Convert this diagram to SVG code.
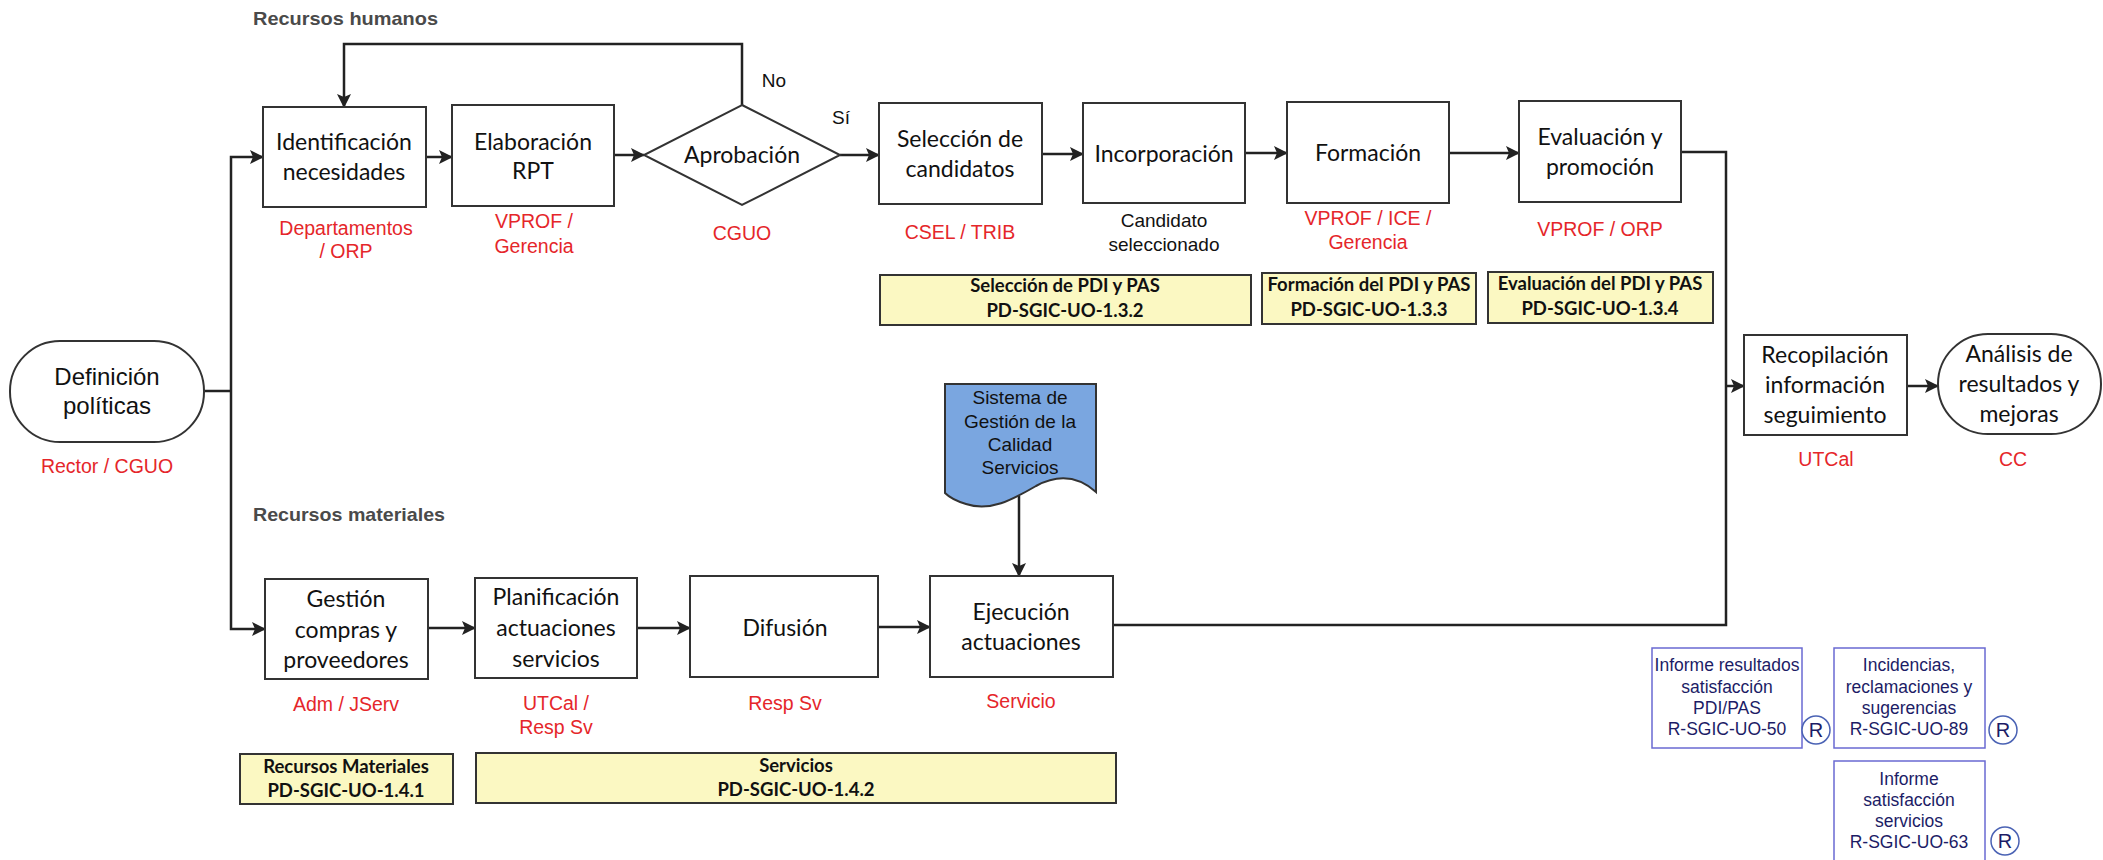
<svg xmlns="http://www.w3.org/2000/svg" width="2103" height="860" viewBox="0 0 2103 860">
<defs>
<marker id="arr" markerUnits="userSpaceOnUse" markerWidth="14" markerHeight="14" refX="13" refY="7" orient="auto">
<path d="M0,0 L14,7 L0,14 L3,7 z" fill="#222"/>
</marker>
<style>
.box{fill:#fff;stroke:#333;stroke-width:2}
.yel{fill:#fbf8c2;stroke:#333;stroke-width:2}
.rec{fill:#fff;stroke:#6a6ad2;stroke-width:1.5}
.rc{fill:#fff;stroke:#4a62b4;stroke-width:1.5}
.t{font-family:Lato,"Liberation Sans",sans-serif;font-size:23px;fill:#111;text-anchor:middle}
.ta{font-family:"Liberation Sans",Arial,sans-serif;font-size:24px;fill:#111;text-anchor:middle}
.red{font-family:"Liberation Sans",Arial,sans-serif;font-size:19.5px;fill:#e5262a;text-anchor:middle}
.blk{font-family:"Liberation Sans",Arial,sans-serif;font-size:19px;fill:#111;text-anchor:middle}
.yt{font-family:Lato,"Liberation Sans",sans-serif;font-size:18.5px;font-weight:bold;fill:#111;text-anchor:middle}
.bt{font-family:"Liberation Sans",Arial,sans-serif;font-size:17.5px;fill:#1c1c66;text-anchor:middle}
.rt{font-family:"Liberation Sans",Arial,sans-serif;font-size:20px;fill:#1c1c66;text-anchor:middle}
.sec{font-family:"Liberation Sans",Arial,sans-serif;font-size:19px;font-weight:bold;fill:#4a4a4a}
.c{fill:none;stroke:#222;stroke-width:2.5}
</style>
</defs>
<rect width="2103" height="860" fill="#fff"/>
<text class="sec" x="253" y="25" textLength="185" lengthAdjust="spacingAndGlyphs">Recursos humanos</text>
<text class="sec" x="253" y="521" textLength="192" lengthAdjust="spacingAndGlyphs">Recursos materiales</text>

<g id="connectors">
<polyline class="c" points="204,391 231,391"/>
<polyline class="c" points="231,391 231,157 263,157" marker-end="url(#arr)"/>
<polyline class="c" points="231,391 231,629 265,629" marker-end="url(#arr)"/>
<line class="c" x1="426" y1="157" x2="452" y2="157" marker-end="url(#arr)"/>
<line class="c" x1="614" y1="155" x2="644" y2="155" marker-end="url(#arr)"/>
<polyline class="c" points="742,105 742,44 344,44 344,107" marker-end="url(#arr)"/>
<line class="c" x1="840" y1="155" x2="879" y2="155" marker-end="url(#arr)"/>
<line class="c" x1="1042" y1="154" x2="1083" y2="154" marker-end="url(#arr)"/>
<line class="c" x1="1245" y1="153" x2="1287" y2="153" marker-end="url(#arr)"/>
<line class="c" x1="1449" y1="153" x2="1519" y2="153" marker-end="url(#arr)"/>
<polyline class="c" points="1681,152 1726,152 1726,625 1113,625"/>
<line class="c" x1="1726" y1="386" x2="1744" y2="386" marker-end="url(#arr)"/>
<line class="c" x1="1907" y1="386" x2="1938" y2="386" marker-end="url(#arr)"/>
<line class="c" x1="428" y1="628" x2="475" y2="628" marker-end="url(#arr)"/>
<line class="c" x1="637" y1="628" x2="690" y2="628" marker-end="url(#arr)"/>
<line class="c" x1="878" y1="627" x2="930" y2="627" marker-end="url(#arr)"/>
<line class="c" x1="1019" y1="496" x2="1019" y2="576" marker-end="url(#arr)"/>
<text class="blk" x="774" y="87">No</text>
<text class="blk" x="841" y="124">Sí</text>
</g>

<g id="definicion">
<rect class="box" x="10" y="341" width="194" height="101" rx="50" ry="50"/>
<text class="ta" x="107" y="385">Definición</text>
<text class="ta" x="107" y="414">políticas</text>
<text class="red" x="107" y="473">Rector / CGUO</text>
</g>

<g id="identificacion">
<rect class="box" x="263" y="107" width="163" height="100"/>
<text class="t" x="344" y="150">Identificación</text>
<text class="t" x="344" y="180">necesidades</text>
<text class="red" x="346" y="235">Departamentos</text>
<text class="red" x="346" y="258">/ ORP</text>
</g>

<g id="elaboracion">
<rect class="box" x="452" y="105" width="162" height="101"/>
<text class="t" x="533" y="150">Elaboración</text>
<text class="t" x="533" y="179">RPT</text>
<text class="red" x="534" y="228">VPROF /</text>
<text class="red" x="534" y="253">Gerencia</text>
</g>

<g id="aprobacion">
<polygon class="box" points="742,105 840,155 742,205 644,155"/>
<text class="t" x="742" y="163">Aprobación</text>
<text class="red" x="742" y="240">CGUO</text>
</g>

<g id="seleccion">
<rect class="box" x="879" y="103" width="163" height="101"/>
<text class="t" x="960" y="147">Selección de</text>
<text class="t" x="960" y="177">candidatos</text>
<text class="red" x="960" y="239">CSEL / TRIB</text>
</g>

<g id="incorporacion">
<rect class="box" x="1083" y="103" width="162" height="100"/>
<text class="t" x="1164" y="162">Incorporación</text>
<text class="blk" x="1164" y="227">Candidato</text>
<text class="blk" x="1164" y="251">seleccionado</text>
</g>

<g id="formacion">
<rect class="box" x="1287" y="102" width="162" height="101"/>
<text class="t" x="1368" y="161">Formación</text>
<text class="red" x="1368" y="225">VPROF / ICE /</text>
<text class="red" x="1368" y="249">Gerencia</text>
</g>

<g id="evaluacion">
<rect class="box" x="1519" y="101" width="162" height="101"/>
<text class="t" x="1600" y="145">Evaluación y</text>
<text class="t" x="1600" y="175">promoción</text>
<text class="red" x="1600" y="236">VPROF / ORP</text>
</g>

<g id="proc-seleccion">
<rect class="yel" x="880" y="275" width="371" height="50"/>
<text class="yt" x="1065" y="292">Selección de PDI y PAS</text>
<text class="yt" x="1065" y="317">PD-SGIC-UO-1.3.2</text>
</g>
<g id="proc-formacion">
<rect class="yel" x="1262" y="273" width="214" height="51"/>
<text class="yt" x="1369" y="291">Formación del PDI y PAS</text>
<text class="yt" x="1369" y="316">PD-SGIC-UO-1.3.3</text>
</g>
<g id="proc-evaluacion">
<rect class="yel" x="1488" y="272" width="225" height="51"/>
<text class="yt" x="1600" y="290">Evaluación del PDI y PAS</text>
<text class="yt" x="1600" y="315">PD-SGIC-UO-1.3.4</text>
</g>

<g id="recopilacion">
<rect class="box" x="1744" y="335" width="163" height="100"/>
<text class="t" x="1825" y="363">Recopilación</text>
<text class="t" x="1825" y="393">información</text>
<text class="t" x="1825" y="423">seguimiento</text>
<text class="red" x="1826" y="466">UTCal</text>
</g>

<g id="analisis">
<rect class="box" x="1938" y="334" width="163" height="100" rx="50" ry="50"/>
<text class="t" x="2019" y="362">Análisis de</text>
<text class="t" x="2019" y="392">resultados y</text>
<text class="t" x="2019" y="422">mejoras</text>
<text class="red" x="2013" y="466">CC</text>
</g>

<g id="gestion">
<rect class="box" x="265" y="579" width="163" height="100"/>
<text class="t" x="346" y="607">Gestión</text>
<text class="t" x="346" y="638">compras y</text>
<text class="t" x="346" y="668">proveedores</text>
<text class="red" x="346" y="711">Adm / JServ</text>
</g>

<g id="planificacion">
<rect class="box" x="475" y="578" width="162" height="100"/>
<text class="t" x="556" y="605">Planificación</text>
<text class="t" x="556" y="636">actuaciones</text>
<text class="t" x="556" y="667">servicios</text>
<text class="red" x="556" y="710">UTCal /</text>
<text class="red" x="556" y="734">Resp  Sv</text>
</g>

<g id="difusion">
<rect class="box" x="690" y="576" width="188" height="101"/>
<text class="t" x="785" y="636">Difusión</text>
<text class="red" x="785" y="710">Resp Sv</text>
</g>

<g id="sistema">
<path d="M945,384 H1096 V492 C1078,476 1058,474 1036,486 C1012,500 990,512 966,504 C956,501 949,497 945,493 Z" fill="#7aa6e0" stroke="#333" stroke-width="2"/>
<text class="blk" x="1020" y="404">Sistema de</text>
<text class="blk" x="1020" y="428">Gestión de la</text>
<text class="blk" x="1020" y="451">Calidad</text>
<text class="blk" x="1020" y="474">Servicios</text>
</g>

<g id="ejecucion">
<rect class="box" x="930" y="576" width="183" height="101"/>
<text class="t" x="1021" y="620">Ejecución</text>
<text class="t" x="1021" y="650">actuaciones</text>
<text class="red" x="1021" y="708">Servicio</text>
</g>

<g id="proc-recursos">
<rect class="yel" x="240" y="754" width="213" height="50"/>
<text class="yt" x="346" y="773">Recursos Materiales</text>
<text class="yt" x="346" y="797">PD-SGIC-UO-1.4.1</text>
</g>
<g id="proc-servicios">
<rect class="yel" x="476" y="753" width="640" height="50"/>
<text class="yt" x="796" y="772">Servicios</text>
<text class="yt" x="796" y="796">PD-SGIC-UO-1.4.2</text>
</g>

<g id="reg-50">
<rect class="rec" x="1652" y="648" width="150" height="100"/>
<text class="bt" x="1727" y="671">Informe resultados</text>
<text class="bt" x="1727" y="693">satisfacción</text>
<text class="bt" x="1727" y="714">PDI/PAS</text>
<text class="bt" x="1727" y="735">R-SGIC-UO-50</text>
<circle class="rc" cx="1816" cy="730" r="14"/>
<text class="rt" x="1816" y="737">R</text>
</g>
<g id="reg-89">
<rect class="rec" x="1834" y="648" width="151" height="100"/>
<text class="bt" x="1909" y="671">Incidencias,</text>
<text class="bt" x="1909" y="693">reclamaciones y</text>
<text class="bt" x="1909" y="714">sugerencias</text>
<text class="bt" x="1909" y="735">R-SGIC-UO-89</text>
<circle class="rc" cx="2003" cy="730" r="14"/>
<text class="rt" x="2003" y="737">R</text>
</g>
<g id="reg-63">
<rect class="rec" x="1834" y="761" width="151" height="102"/>
<text class="bt" x="1909" y="785">Informe</text>
<text class="bt" x="1909" y="806">satisfacción</text>
<text class="bt" x="1909" y="827">servicios</text>
<text class="bt" x="1909" y="848">R-SGIC-UO-63</text>
<circle class="rc" cx="2005" cy="841" r="14"/>
<text class="rt" x="2005" y="848">R</text>
</g>
</svg>
